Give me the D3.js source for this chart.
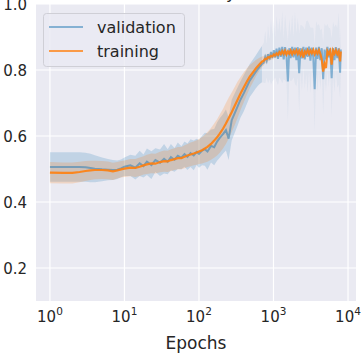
<!DOCTYPE html>
<html>
<head>
<meta charset="utf-8">
<script src="https://cdn.jsdelivr.net/npm/d3@7"></script>
<style>
body { margin: 0; background: #fff; }
text { font-family: "DejaVu Sans", sans-serif; fill: #262626; }
</style>
</head>
<body>
<div id="chart"></div>
<script>
////// DATA ////////
// epochs sampled along the log axis (denser on the noisy plateau)
var epochs = [
	1, 1.5, 2, 2.5, 3, 3.5, 4, 5, 6, 7, 8, 9, 10, 12, 14, 16, 18, 20, 23, 26, 30, 34, 38, 42, 47, 52, 58, 64, 70, 77, 85, 93, 100,
	110, 120, 130, 145, 160, 175, 190, 210, 230, 250, 275, 300, 330, 360, 400, 440, 480, 530, 580, 640, 700,
	740, 775, 810, 845, 885, 925, 965, 1010, 1055, 1100,
	1150, 1200, 1255, 1310, 1370, 1430, 1495, 1560, 1630, 1700,
	1780, 1860, 1940, 2030, 2120, 2210, 2310, 2410, 2520, 2630,
	2750, 2870, 3000, 3130, 3270, 3420, 3570, 3730, 3900, 4070,
	4250, 4440, 4640, 4850, 5060, 5290, 5520, 5770, 6030, 6300,
	6580, 6870, 7180, 7500, 7830, 8000
];

var trainMean = [
	0.489, 0.488, 0.488, 0.491, 0.494, 0.496, 0.497, 0.497, 0.496, 0.493, 0.496, 0.499, 0.501,
	0.504, 0.503, 0.507, 0.511, 0.514, 0.517, 0.516, 0.521, 0.524, 0.523, 0.527, 0.530, 0.533, 0.533, 0.537, 0.541, 0.544, 0.547, 0.550, 0.553,
	0.557, 0.562, 0.567, 0.576, 0.586, 0.596, 0.607, 0.622, 0.638, 0.654, 0.672, 0.690, 0.710, 0.728, 0.748, 0.765, 0.780, 0.793, 0.805, 0.816, 0.825,
	0.828, 0.834, 0.833, 0.839, 0.838, 0.843, 0.841, 0.847, 0.844, 0.850,
	0.846, 0.854, 0.848, 0.857, 0.849, 0.858, 0.847, 0.856, 0.850, 0.859,
	0.848, 0.858, 0.851, 0.860, 0.849, 0.858, 0.846, 0.857, 0.838, 0.856,
	0.850, 0.860, 0.849, 0.859, 0.851, 0.861, 0.848, 0.858, 0.850, 0.860,
	0.849, 0.832, 0.795, 0.818, 0.806, 0.857, 0.849, 0.858, 0.816, 0.859,
	0.850, 0.860, 0.848, 0.857, 0.826, 0.856
];
var trainStd = [
	0.032, 0.032, 0.032, 0.031, 0.030, 0.029, 0.028, 0.027, 0.027, 0.026, 0.025, 0.025, 0.025,
	0.026, 0.027, 0.028, 0.028, 0.029, 0.030, 0.030, 0.031, 0.032, 0.032, 0.033, 0.033, 0.034, 0.034, 0.035, 0.035, 0.036, 0.036, 0.037, 0.038,
	0.040, 0.042, 0.045, 0.048, 0.052, 0.055, 0.058, 0.060, 0.062, 0.062, 0.060, 0.058, 0.055, 0.050, 0.045, 0.040, 0.035, 0.030, 0.025, 0.020, 0.016,
	0.014, 0.013, 0.013, 0.012, 0.011, 0.011, 0.010, 0.010, 0.009, 0.009,
	0.008, 0.008, 0.008, 0.008, 0.008, 0.008, 0.008, 0.008, 0.008, 0.008,
	0.008, 0.008, 0.008, 0.008, 0.008, 0.008, 0.008, 0.008, 0.008, 0.008,
	0.008, 0.008, 0.008, 0.008, 0.008, 0.008, 0.008, 0.008, 0.008, 0.008,
	0.008, 0.008, 0.008, 0.008, 0.008, 0.008, 0.008, 0.008, 0.008, 0.008,
	0.008, 0.008, 0.008, 0.008, 0.008, 0.008
];

var valMean = [
	0.506, 0.506, 0.506, 0.506, 0.505, 0.503, 0.501, 0.499, 0.498, 0.497, 0.498, 0.502, 0.507,
	0.511, 0.504, 0.517, 0.509, 0.522, 0.512, 0.527, 0.519, 0.531, 0.522, 0.536, 0.528, 0.540, 0.534, 0.545, 0.537, 0.548, 0.541, 0.552, 0.546,
	0.556, 0.560, 0.553, 0.570, 0.566, 0.583, 0.594, 0.606, 0.618, 0.592, 0.648, 0.668, 0.690, 0.710, 0.730, 0.750, 0.768, 0.782, 0.795, 0.808, 0.818,
	0.822, 0.840, 0.828, 0.848, 0.832, 0.855, 0.836, 0.860, 0.838, 0.865,
	0.834, 0.868, 0.840, 0.870, 0.832, 0.869, 0.842, 0.765, 0.866, 0.836,
	0.870, 0.838, 0.868, 0.830, 0.869, 0.790, 0.866, 0.835, 0.870, 0.832,
	0.868, 0.840, 0.871, 0.828, 0.868, 0.838, 0.742, 0.868, 0.834, 0.870,
	0.830, 0.866, 0.772, 0.862, 0.832, 0.870, 0.838, 0.866, 0.775, 0.866,
	0.830, 0.869, 0.836, 0.866, 0.792, 0.862
];
var valStd = [
	0.045, 0.045, 0.045, 0.045, 0.044, 0.043, 0.041, 0.036, 0.032, 0.030, 0.028, 0.027, 0.028,
	0.032, 0.036, 0.038, 0.035, 0.040, 0.042, 0.036, 0.040, 0.045, 0.038, 0.040, 0.036, 0.040, 0.035, 0.038, 0.040, 0.042, 0.045, 0.040, 0.042,
	0.045, 0.050, 0.055, 0.050, 0.055, 0.058, 0.060, 0.060, 0.062, 0.065, 0.062, 0.060, 0.058, 0.055, 0.055, 0.052, 0.050, 0.050, 0.050, 0.052, 0.055,
	0.06, 0.08, 0.05, 0.09, 0.06, 0.10, 0.07, 0.09, 0.06, 0.10,
	0.08, 0.09, 0.07, 0.11, 0.06, 0.10, 0.08, 0.12, 0.09, 0.07,
	0.10, 0.06, 0.11, 0.08, 0.09, 0.12, 0.07, 0.10, 0.06, 0.09,
	0.08, 0.11, 0.07, 0.10, 0.06, 0.09, 0.13, 0.08, 0.10, 0.07,
	0.09, 0.06, 0.11, 0.08, 0.10, 0.07, 0.09, 0.06, 0.12, 0.08,
	0.10, 0.07, 0.09, 0.11, 0.08, 0.07
];

var xTicks = [1, 10, 100, 1000, 10000];
var yTicks = [0.2, 0.4, 0.6, 0.8, 1.0];
var seriesNames = ["validation", "training"];
var titleText = "Accuracy";
var xLabel = "Epochs";
///////////////////////

var w = 364, h = 357;
// plot box (note: "top" is a reserved window prop, so use other names)
var padL = 36, padR = 356, padT = 4, padB = 301;

var xScale = d3.scaleLog()
	.domain([0.65, 12800])
	.range([padL, padR]);

var yScale = d3.scaleLinear()
	.domain([0.1, 1.0])
	.range([padB, padT]);

var svg = d3.select("#chart")
	.append("svg")
	.attr("width", w)
	.attr("height", h);

svg.append("defs").append("clipPath")
	.attr("id", "plotClip")
	.append("rect")
	.attr("x", padL).attr("y", padT)
	.attr("width", padR - padL).attr("height", padB - padT);

// background + grid (seaborn darkgrid)
svg.append("rect")
	.attr("x", padL).attr("y", padT)
	.attr("width", padR - padL).attr("height", padB - padT)
	.attr("fill", "#eaeaf2");

svg.append("g")
	.selectAll("line")
	.data(xTicks)
	.enter()
	.append("line")
	.attr("x1", function (d) { return xScale(d); })
	.attr("x2", function (d) { return xScale(d); })
	.attr("y1", padT).attr("y2", padB)
	.attr("stroke", "#fff").attr("stroke-width", 1.2);

svg.append("g")
	.selectAll("line")
	.data(yTicks)
	.enter()
	.append("line")
	.attr("x1", padL).attr("x2", padR)
	.attr("y1", function (d) { return yScale(d); })
	.attr("y2", function (d) { return yScale(d); })
	.attr("stroke", "#fff").attr("stroke-width", 1.2);

// tick labels
svg.append("g")
	.selectAll("text")
	.data(yTicks)
	.enter()
	.append("text")
	.attr("x", 27)
	.attr("y", function (d) { return yScale(d) + 5.5; })
	.attr("text-anchor", "end")
	.style("font-size", "15px")
	.text(function (d) { return d.toFixed(1); });

var xt = svg.append("g")
	.selectAll("text")
	.data(xTicks)
	.enter()
	.append("text")
	.attr("x", function (d) { return xScale(d); })
	.attr("y", 322)
	.attr("text-anchor", "middle")
	.style("font-size", "15px");
xt.append("tspan").text("10");
xt.append("tspan")
	.attr("dy", -7)
	.style("font-size", "10.5px")
	.text(function (d) { return Math.round(Math.log10(d)); });

svg.append("text")
	.attr("x", (padL + padR) / 2)
	.attr("y", 349)
	.attr("text-anchor", "middle")
	.style("font-size", "17px")
	.text(xLabel);

// title, mostly cut off at the top edge
svg.append("text")
	.attr("x", 198)
	.attr("y", -1.5)
	.attr("text-anchor", "middle")
	.style("font-size", "16.5px")
	.text(titleText);

// series
var rows = epochs.map(function (e, i) {
	return { e: e, tm: trainMean[i], ts: trainStd[i], vm: valMean[i], vs: valStd[i] };
});

var plot = svg.append("g").attr("clip-path", "url(#plotClip)");

var valBand = d3.area()
	.x(function (d) { return xScale(d.e); })
	.y0(function (d) { return yScale(d.vm - d.vs); })
	.y1(function (d) { return yScale(d.vm + d.vs); });

var trainBand = d3.area()
	.x(function (d) { return xScale(d.e); })
	.y0(function (d) { return yScale(d.tm - d.ts); })
	.y1(function (d) { return yScale(d.tm + d.ts); });

// plateau part of the validation band is much fainter
plot.append("path")
	.attr("d", valBand(rows.filter(function (d) { return d.e <= 700; })))
	.attr("fill", "#1f77b4")
	.attr("fill-opacity", 0.2);
plot.append("path")
	.attr("d", valBand(rows.filter(function (d) { return d.e >= 700; })))
	.attr("fill", "#1f77b4")
	.attr("fill-opacity", 0.05);

plot.append("path")
	.attr("d", trainBand(rows))
	.attr("fill", "#ff7f0e")
	.attr("fill-opacity", 0.2);

var valLine = d3.line()
	.x(function (d) { return xScale(d.e); })
	.y(function (d) { return yScale(d.vm); });

var trainLine = d3.line()
	.x(function (d) { return xScale(d.e); })
	.y(function (d) { return yScale(d.tm); });

plot.append("path")
	.attr("d", valLine(rows))
	.attr("fill", "none")
	.attr("stroke", "#1f77b4")
	.attr("stroke-opacity", 0.5)
	.attr("stroke-width", 2);

plot.append("path")
	.attr("d", trainLine(rows))
	.attr("fill", "none")
	.attr("stroke", "#ff7f0e")
	.attr("stroke-opacity", 0.9)
	.attr("stroke-width", 2.2);

// legend
var legend = svg.append("g");
legend.append("rect")
	.attr("x", 43.5).attr("y", 13.5)
	.attr("width", 141).attr("height", 53)
	.attr("rx", 3)
	.attr("fill", "#eaeaf2")
	.attr("fill-opacity", 0.8)
	.attr("stroke", "#cfcfd6");

var legColours = ["#1f77b4", "#ff7f0e"];
var legOpac = [0.5, 0.75];
seriesNames.forEach(function (name, i) {
	var yy = 27 + i * 24;
	legend.append("line")
		.attr("x1", 49).attr("x2", 83)
		.attr("y1", yy).attr("y2", yy)
		.attr("stroke", legColours[i])
		.attr("stroke-opacity", legOpac[i])
		.attr("stroke-width", 2);
	legend.append("text")
		.attr("x", 97)
		.attr("y", yy + 6)
		.style("font-size", "16px")
		.text(name);
});
</script>
</body>
</html>
